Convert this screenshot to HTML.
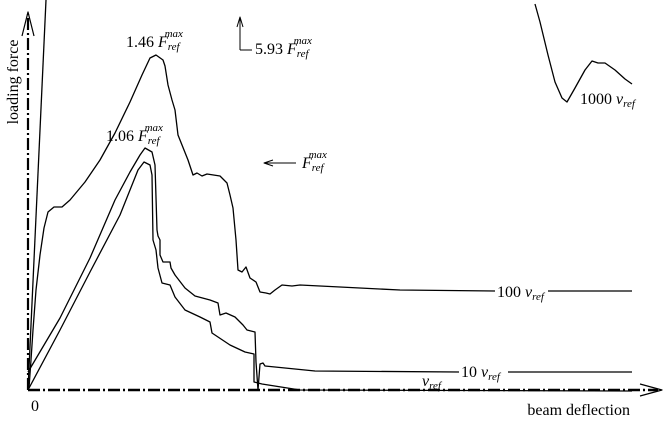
<!DOCTYPE html>
<html><head><style>
body{margin:0;background:#fff}
svg text{font-family:"Liberation Serif",serif;fill:#000}
</style></head><body>
<svg width="666" height="419" viewBox="0 0 666 419" xmlns="http://www.w3.org/2000/svg">
<g stroke="#000" fill="none" stroke-width="1.3" stroke-linejoin="round">
<line x1="28" y1="390" x2="28" y2="14" stroke-width="2.2" stroke-dasharray="12,3,2,3"/>
<polyline points="22,36 28,12 34,36" stroke-width="1.2"/>
<line x1="28" y1="390" x2="658" y2="390" stroke-width="2.5" stroke-dasharray="12,3,2,3"/>
<polyline points="640,384 662,390 640,396" stroke-width="1.2"/>
<line x1="28" y1="390" x2="46" y2="0"/>
<polyline points="29,388 31,360 33,330 36,290 40,255 44,228 48,212 54,207 62,207 70,200 85,182 100,160 115,133 130,102 142,75 150,58 156,55 163,60 165,66 168,85 172,100 175,110 178,135 182,145 188,160 193,175 197,173 202,176 207,174 220,176 227,183 230,195 233,208 236,240 238,270 242,272 246,267 250,278 256,282 260,292 266,293 270,294 275,290 282,285 292,286 300,285 340,287 400,290 495,291"/>
<line x1="548" y1="291" x2="632" y2="291"/>
<polyline points="28,372 31,367 60,318 90,258 115,200 130,172 140,155 145,148 152,152 155,165 157,230 158,236 160,240 160,255 163,262 170,262 171,268 175,275 185,288 195,296 210,300 218,303 220,315 226,313 235,317 243,325 247,330 255,332 256,362 258,390 260,364 263,363 265,366 315,371 459,372"/>
<line x1="508" y1="372" x2="632" y2="372"/>
<polyline points="28,390 60,330 90,272 120,215 138,170 144,162 150,165 152,175 153,240 156,250 158,268 162,283 170,285 175,297 185,310 200,317 210,322 212,333 230,345 245,352 254,354 254,382 262,384 300,390 632,391"/>
<polyline points="535,4 540,22 548,55 555,82 562,98 567,102 575,88 585,70 592,61 598,63 605,63 615,70 625,79 632,84"/>
<line x1="240" y1="50" x2="240" y2="18" stroke-width="1"/>
<line x1="240" y1="50" x2="252" y2="50" stroke-width="1"/>
<polyline points="237,27 240,17 243,27" stroke-width="1"/>
<line x1="264" y1="163" x2="296" y2="163" stroke-width="1"/>
<polyline points="273,160 264,163 273,166" stroke-width="1"/>
</g>
<g font-size="16">
<text x="126" y="47">1.46 <tspan font-style="italic">F</tspan><tspan font-size="11" font-style="italic" dy="3">ref</tspan><tspan font-size="11" font-style="italic" dx="-15" dy="-13">max</tspan></text>
<text x="106" y="141">1.06 <tspan font-style="italic">F</tspan><tspan font-size="11" font-style="italic" dy="3">ref</tspan><tspan font-size="11" font-style="italic" dx="-15" dy="-13">max</tspan></text>
<text x="255" y="54">5.93 <tspan font-style="italic">F</tspan><tspan font-size="11" font-style="italic" dy="3">ref</tspan><tspan font-size="11" font-style="italic" dx="-15" dy="-13">max</tspan></text>
<text x="302" y="168"><tspan font-style="italic">F</tspan><tspan font-size="11" font-style="italic" dy="3">ref</tspan><tspan font-size="11" font-style="italic" dx="-15" dy="-13">max</tspan></text>
<text x="497" y="297">100 <tspan font-style="italic">v</tspan><tspan font-size="11" font-style="italic" dy="3">ref</tspan></text>
<text x="461" y="377">10 <tspan font-style="italic">v</tspan><tspan font-size="11" font-style="italic" dy="3">ref</tspan></text>
<text x="422" y="386" font-style="italic">v<tspan font-size="11" dy="3">ref</tspan></text>
<text x="580" y="104">1000 <tspan font-style="italic">v</tspan><tspan font-size="11" font-style="italic" dy="3">ref</tspan></text>
<text x="31" y="411">0</text>
<text x="630" y="415" text-anchor="end">beam deflection</text>
<text transform="translate(18,82) rotate(-90)" text-anchor="middle">loading force</text>
</g>
</svg>
</body></html>
